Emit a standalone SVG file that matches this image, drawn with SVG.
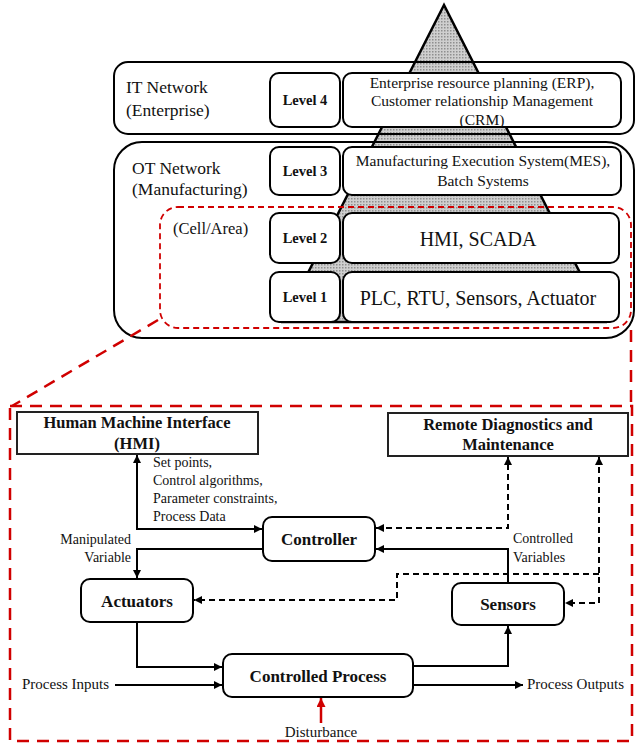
<svg xmlns="http://www.w3.org/2000/svg" width="636" height="743" viewBox="0 0 636 743">
<defs>
<pattern id="dots" width="3" height="3" patternUnits="userSpaceOnUse">
<rect width="3" height="3" fill="#cfcfcf"/>
<rect width="1.5" height="1.5" fill="#8f8f8f"/>
</pattern>
<marker id="ah" viewBox="0 0 10 10" refX="10" refY="5" markerWidth="8" markerHeight="8" markerUnits="userSpaceOnUse" orient="auto-start-reverse">
<path d="M0,0 L10,5 L0,10 z" fill="#000"/>
</marker>
<marker id="ahr" viewBox="0 0 10 10" refX="10" refY="5" markerWidth="9" markerHeight="9" markerUnits="userSpaceOnUse" orient="auto">
<path d="M0,0 L10,5 L0,10 z" fill="#d00000"/>
</marker>
</defs>
<style>
.big{fill:none;stroke:#000;stroke-width:2}
.box{fill:#fff;stroke:#000;stroke-width:2}
.t{font-family:"Liberation Serif","Times New Roman",serif;fill:#111}
.b{font-weight:bold}
.c{text-anchor:middle}
.r{text-anchor:end}
.solid{fill:none;stroke:#000;stroke-width:2}
.dash{fill:none;stroke:#000;stroke-width:2;stroke-dasharray:6 4}
.red{fill:none;stroke:#d00000;stroke-dasharray:12 8;stroke-width:2.5}
</style>
<rect width="636" height="743" fill="#fff"/>

<g id="pyramid">
<polygon points="444,5 283,322 605,322" fill="url(#dots)" stroke="#000" stroke-width="2.5" stroke-linejoin="miter"/>
</g>

<g id="it-network">
<rect class="big" x="114" y="62" width="520" height="72" rx="14"/>
<text class="t" x="126" y="93" font-size="17.5">IT Network</text>
<text class="t" x="126" y="116" font-size="17.5">(Enterprise)</text>
</g>
<g id="ot-network">
<rect class="big" x="114" y="142" width="520" height="196" rx="28"/>
<text class="t" x="132" y="174" font-size="17.5">OT Network</text>
<text class="t" x="132" y="195" font-size="17.5">(Manufacturing)</text>
</g>

<g id="level4">
<rect class="box" x="270" y="73" width="70" height="54" rx="9"/>
<text class="t b c" x="305" y="105" font-size="14.5">Level 4</text>
</g>
<g id="erp">
<rect class="box" x="343" y="73" width="278" height="54" rx="9"/>
<text class="t c" x="482" y="88" font-size="15.5">Enterprise resource planning (ERP),</text>
<text class="t c" x="482" y="106" font-size="15.5">Customer relationship Management</text>
<text class="t c" x="482" y="125" font-size="15.5">(CRM)</text>
</g>
<g id="level3">
<rect class="box" x="270" y="147" width="70" height="48" rx="9"/>
<text class="t b c" x="305" y="176" font-size="14.5">Level 3</text>
</g>
<g id="mes">
<rect class="box" x="343" y="147" width="278" height="48" rx="9"/>
<text class="t c" x="483" y="166" font-size="15.5">Manufacturing Execution System(MES),</text>
<text class="t c" x="483" y="186" font-size="15.5">Batch Systems</text>
</g>
<g id="cell-area">
<rect x="160" y="207" width="471" height="121" rx="18" fill="none" stroke="#d00000" stroke-width="1.8" stroke-dasharray="6 4"/>
<text class="t" x="173" y="234" font-size="16.5">(Cell/Area)</text>
</g>
<g id="level2">
<rect class="box" x="270" y="213" width="70" height="50" rx="9"/>
<text class="t b c" x="305" y="243" font-size="14.5">Level 2</text>
</g>
<g id="hmi-scada">
<rect class="box" x="343" y="213" width="276" height="50" rx="9"/>
<text class="t c" x="478" y="246" font-size="20">HMI, SCADA</text>
</g>
<g id="level1">
<rect class="box" x="270" y="272" width="70" height="50" rx="9"/>
<text class="t b c" x="305" y="302" font-size="14.5">Level 1</text>
</g>
<g id="plc">
<rect class="box" x="343" y="272" width="276" height="50" rx="9"/>
<text class="t c" x="478" y="305" font-size="20">PLC, RTU, Sensors, Actuator</text>
</g>

<g id="zoom-frame">
<path class="red" d="M158,320 L12,406"/>
<path class="red" d="M631,330 V406"/>
<rect class="red" x="10" y="406" width="622" height="335"/>
</g>

<g id="hmi">
<rect x="17" y="412" width="241" height="42" fill="#fff" stroke="#222" stroke-width="2"/>
<text class="t b c" x="137" y="428" font-size="16.5">Human Machine Interface</text>
<text class="t b c" x="137" y="449" font-size="16.5">(HMI)</text>
</g>
<g id="remote">
<rect x="388" y="413" width="240" height="43" fill="#fff" stroke="#222" stroke-width="2"/>
<text class="t b c" x="508" y="430" font-size="16.5">Remote Diagnostics and</text>
<text class="t b c" x="508" y="450" font-size="16.5">Maintenance</text>
</g>
<g id="controller">
<rect class="box" x="263" y="517" width="112" height="44" rx="9"/>
<text class="t b c" x="319" y="545" font-size="17">Controller</text>
</g>
<g id="actuators">
<rect class="box" x="81" y="579" width="112" height="43" rx="9"/>
<text class="t b c" x="137" y="607" font-size="17">Actuators</text>
</g>
<g id="sensors">
<rect class="box" x="452" y="583" width="112" height="42" rx="9"/>
<text class="t b c" x="508" y="610" font-size="17">Sensors</text>
</g>
<g id="process">
<rect class="box" x="223" y="654" width="190" height="43" rx="9"/>
<text class="t b c" x="318" y="682" font-size="17">Controlled Process</text>
</g>

<g id="connectors">
<path class="solid" d="M137,455 V529 H262" marker-start="url(#ah)" marker-end="url(#ah)"/>
<path class="solid" d="M263,549 H137 V578" marker-end="url(#ah)"/>
<path class="solid" d="M508,583 V549 H376" marker-end="url(#ah)"/>
<path class="solid" d="M137,622 V667 H222" marker-end="url(#ah)"/>
<path class="solid" d="M115,685 H222" marker-end="url(#ah)"/>
<path class="solid" d="M413,666 H508 V626" marker-end="url(#ah)"/>
<path class="solid" d="M413,685 H523" marker-end="url(#ah)"/>
<path d="M321,723 V698" fill="none" stroke="#d00000" stroke-width="2.5" marker-end="url(#ahr)"/>
<path class="dash" d="M376,528 H508 V457" marker-start="url(#ah)" marker-end="url(#ah)"/>
<path class="dash" d="M599,457 V603 H565" marker-start="url(#ah)" marker-end="url(#ah)"/>
<path class="dash" d="M599,574 H397 V600 H194" marker-end="url(#ah)"/>
</g>

<g id="labels">
<text class="t" x="153" y="467" font-size="14">Set points,</text>
<text class="t" x="153" y="485" font-size="14">Control algorithms,</text>
<text class="t" x="153" y="503" font-size="14">Parameter constraints,</text>
<text class="t" x="153" y="521" font-size="14">Process Data</text>
<text class="t r" x="131" y="544" font-size="14">Manipulated</text>
<text class="t r" x="131" y="562" font-size="14">Variable</text>
<text class="t" x="513" y="543" font-size="14">Controlled</text>
<text class="t" x="513" y="562" font-size="14">Variables</text>
<text class="t" x="22" y="689" font-size="15">Process Inputs</text>
<text class="t" x="527" y="689" font-size="15">Process Outputs</text>
<text class="t c" x="321" y="737" font-size="15">Disturbance</text>
</g>
</svg>
